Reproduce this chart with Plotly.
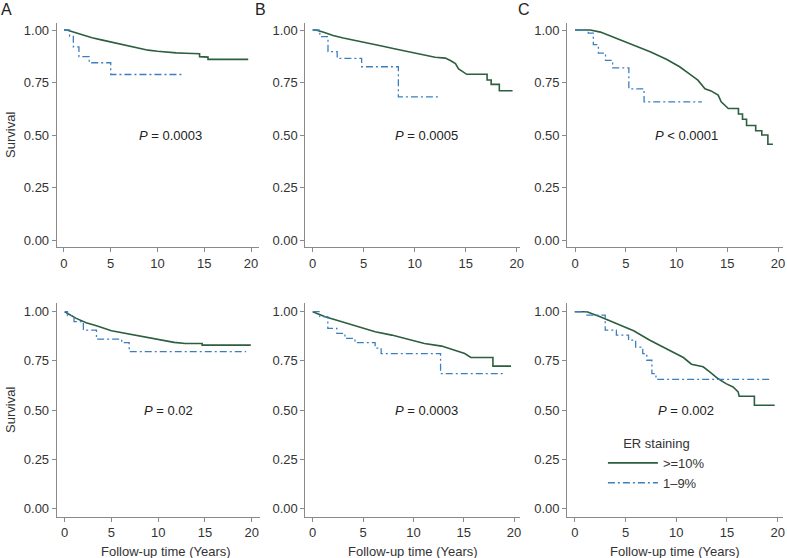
import plotly.graph_objects as go

# ---------------- data ----------------
# Top row
A1_hi_t = [0, 0.3, 1, 2, 3, 4, 5, 6, 7, 8, 9, 10, 11, 12, 13, 14.5, 14.5, 15.4, 15.4, 19.7]
A1_hi_s = [1.0, 1.0, 0.99, 0.976, 0.963, 0.953, 0.943, 0.932, 0.921, 0.912, 0.904, 0.899, 0.894, 0.891, 0.889, 0.887, 0.873, 0.871, 0.860, 0.860]
A1_lo_t = [0, 0.6, 1.0, 1.6, 2.7, 5.0, 12.6]
A1_lo_s = [1.0, 0.97, 0.92, 0.873, 0.844, 0.788, 0.788]

B1_hi_t = [0, 0.3, 1, 2, 3, 4, 5, 6, 7, 8, 9, 10, 11, 12, 13.0, 13.5, 14.0, 14.3, 14.6, 15.0, 15.1, 17.1, 17.1, 17.5, 17.5, 18.3, 18.3, 19.6]
B1_hi_s = [1.0, 1.0, 0.99, 0.974, 0.962, 0.951, 0.942, 0.932, 0.921, 0.911, 0.900, 0.890, 0.879, 0.870, 0.866, 0.855, 0.84, 0.815, 0.805, 0.795, 0.789, 0.789, 0.762, 0.762, 0.741, 0.741, 0.711, 0.711]
B1_lo_t = [0, 0.7, 1.5, 2.4, 4.8, 8.4, 12.3]
B1_lo_s = [1.0, 0.968, 0.897, 0.865, 0.825, 0.682, 0.682]

C1_hi_t = [0, 1.5, 2.5, 4.1, 5.75, 7.4, 9.0, 10.3, 11.3, 12.1, 12.8, 13.4, 14.1, 14.4, 15.1, 16.1, 16.1, 16.5, 16.5, 16.9, 16.9, 17.8, 17.8, 18.4, 18.4, 19.0, 19.0, 19.5]
C1_hi_s = [1.0, 1.0, 0.99, 0.96, 0.928, 0.896, 0.861, 0.825, 0.79, 0.761, 0.72, 0.71, 0.69, 0.658, 0.626, 0.626, 0.60, 0.60, 0.575, 0.575, 0.545, 0.545, 0.52, 0.52, 0.50, 0.50, 0.456, 0.456]
C1_lo_t = [0, 1.3, 1.8, 2.3, 3.0, 3.7, 5.3, 6.8, 12.5]
C1_lo_s = [1.0, 0.985, 0.93, 0.89, 0.855, 0.82, 0.72, 0.658, 0.658]

# Bottom row
A2_hi_t = [0, 0.5, 1.24, 2.3, 3.4, 5.0, 6.9, 8.3, 10.1, 11.7, 12.9, 14.7, 14.7, 19.9]
A2_hi_s = [1.0, 0.985, 0.966, 0.944, 0.929, 0.903, 0.886, 0.872, 0.857, 0.844, 0.838, 0.838, 0.830, 0.830]
A2_lo_t = [0, 0.3, 1.0, 2.0, 3.4, 6.1, 6.9, 19.4]
A2_lo_s = [1.0, 0.98, 0.95, 0.906, 0.86, 0.843, 0.797, 0.797]

B2_hi_t = [0, 0.5, 1.23, 2.9, 4.5, 6.2, 7.85, 9.5, 11.1, 12.8, 13.8, 15.1, 15.7, 17.9, 17.9, 19.7]
B2_hi_s = [1.0, 0.988, 0.974, 0.949, 0.923, 0.898, 0.881, 0.859, 0.838, 0.825, 0.81, 0.787, 0.767, 0.767, 0.723, 0.723]
B2_lo_t = [0, 0.7, 1.5, 2.4, 3.2, 4.2, 6.2, 6.8, 12.7, 19.05]
B2_lo_s = [1.0, 0.975, 0.915, 0.89, 0.864, 0.843, 0.815, 0.787, 0.685, 0.685]

C2_hi_t = [0, 1.2, 2.5, 4.15, 5.8, 7.4, 9.05, 10.7, 11.5, 12.65, 13.3, 14.1, 14.9, 15.6, 16.1, 16.2, 17.7, 17.7, 19.7]
C2_hi_s = [1.0, 1.0, 0.974, 0.94, 0.903, 0.855, 0.813, 0.767, 0.733, 0.72, 0.694, 0.66, 0.634, 0.617, 0.592, 0.57, 0.57, 0.524, 0.524]
C2_lo_t = [0, 1.2, 3.0, 4.1, 5.3, 6.0, 6.7, 7.1, 7.6, 8.0, 19.3]
C2_lo_s = [1.0, 0.983, 0.906, 0.881, 0.855, 0.82, 0.787, 0.753, 0.685, 0.656, 0.656]

p_labels = ["<i>P</i> = 0.0003", "<i>P</i> = 0.0005", "<i>P</i> &lt; 0.0001",
            "<i>P</i> = 0.02", "<i>P</i> = 0.0003", "<i>P</i> = 0.002"]
p_x = [11.4, 11.2, 11.0, 11.1, 11.3, 10.95]
p_y = [0.5, 0.5, 0.5, 0.5, 0.5, 0.5]
panel_letters = ["A", "B", "C"]
series_names = [">=10%", "1–9%"]
legend_title = "ER staining"
x_ticks = [0, 5, 10, 15, 20]
y_ticks = [0, 0.25, 0.5, 0.75, 1.0]
y_ticklabels = ["0.00", "0.25", "0.50", "0.75", "1.00"]

# ---------------- layout geometry (pixels) ----------------
W, H = 787, 558
FONT = "Liberation Sans, Arial, Helvetica, sans-serif"
GREEN = "#2b5f3e"
BLUE = "#3b7fc0"

# per panel: x pixel of t=0, pixels per year, axis left px, axis right px
xgeom = [
    (64.3, 9.4, 57, 260), (314.3, 10.25, 307, 523), (578, 10.2, 570, 787),
    (65, 9.4, 57, 261), (314.3, 10.12, 307, 523), (577.7, 10.2, 570, 787),
]
# per row: y px of 1.0, y px of 0.0, axis top px, axis bottom px
ygeom = [(30, 240, 23, 247.3), (311.7, 508.3, 303.3, 516.7)]

curves = [
    (A1_hi_t, A1_hi_s, A1_lo_t, A1_lo_s),
    (B1_hi_t, B1_hi_s, B1_lo_t, B1_lo_s),
    (C1_hi_t, C1_hi_s, C1_lo_t, C1_lo_s),
    (A2_hi_t, A2_hi_s, A2_lo_t, A2_lo_s),
    (B2_hi_t, B2_hi_s, B2_lo_t, B2_lo_s),
    (C2_hi_t, C2_hi_s, C2_lo_t, C2_lo_s),
]

fig = go.Figure()
layout = dict(width=W, height=H, margin=dict(l=0, r=0, t=0, b=0),
              paper_bgcolor="white", plot_bgcolor="white",
              font=dict(family=FONT, size=12, color="#222"),
              annotations=[])

for i, (ht, hs, lt, ls) in enumerate(curves):
    n = i + 1
    xa = "x" if n == 1 else f"x{n}"
    ya = "y" if n == 1 else f"y{n}"
    show = (i == 5)
    fig.add_trace(go.Scatter(x=ht, y=hs, mode="lines", xaxis=xa, yaxis=ya,
                             line=dict(color=GREEN, width=1.6),
                             name=series_names[0], showlegend=show,
                             cliponaxis=False))
    fig.add_trace(go.Scatter(x=lt, y=ls, mode="lines", xaxis=xa, yaxis=ya,
                             line=dict(color=BLUE, width=1.3, shape="hv",
                                       dash="7px,3px,2px,3px"),
                             name=series_names[1], showlegend=show,
                             cliponaxis=False))

    x0, ppy, left, right = xgeom[i]
    row = 0 if i < 3 else 1
    y1p, y0p, top, bot = ygeom[row]
    ppu = y0p - y1p
    xr = [(left - x0) / ppy, (right - x0) / ppy]
    yr = [-(bot - y0p) / ppu, 1 + (y1p - top) / ppu]
    common = dict(showline=True, linecolor="#8a8a8a", linewidth=1,
                  ticks="outside", ticklen=4, tickcolor="#8a8a8a",
                  showgrid=False, zeroline=False,
                  tickfont=dict(family=FONT, size=13, color="#333"))
    layout["xaxis" if n == 1 else f"xaxis{n}"] = dict(
        domain=[left / W, right / W], range=xr, anchor=ya,
        tickvals=x_ticks, **common)
    layout["yaxis" if n == 1 else f"yaxis{n}"] = dict(
        domain=[1 - bot / H, 1 - top / H], range=yr, anchor=xa,
        tickvals=y_ticks, ticktext=y_ticklabels, **common)
    layout["annotations"].append(dict(
        x=p_x[i], y=p_y[i], xref=xa, yref=ya, text=p_labels[i],
        xanchor="center", yanchor="middle",
        showarrow=False, font=dict(family=FONT, size=13, color="#222")))

# panel letters
for k, (lx, letter) in enumerate(zip([7, 262, 527], panel_letters)):
    layout["annotations"].append(dict(
        x=lx / W, y=1 - 10 / H, xref="paper", yref="paper", text=letter,
        xanchor="center", yanchor="middle",
        showarrow=False, font=dict(family=FONT, size=16, color="#222")))

# y-axis titles (left column)
for cy in [135, 410]:
    layout["annotations"].append(dict(
        x=10 / W, y=1 - cy / H, xref="paper", yref="paper", text="Survival",
        xanchor="center", yanchor="middle",
        textangle=-90, showarrow=False,
        font=dict(family=FONT, size=13, color="#333")))

# x-axis titles (bottom row)
for cx in [167, 415, 678]:
    layout["annotations"].append(dict(
        x=cx / W, y=1 - 551 / H, xref="paper", yref="paper",
        xanchor="center", yanchor="middle",
        text="Follow-up time (Years)", showarrow=False,
        font=dict(family=FONT, size=13, color="#333")))

layout["legend"] = dict(
    x=606 / W, y=1 - 431 / H, xanchor="left", yanchor="top",
    bgcolor="rgba(0,0,0,0)", itemwidth=50, tracegroupgap=0,
    font=dict(family=FONT, size=13, color="#333"),
    title=dict(text=legend_title, side="top center",
               font=dict(family=FONT, size=13, color="#333")))

fig.update_layout(**layout)
fig.write_html("out.html", config={"displayModeBar": False},
               post_script="document.body.style.margin='0';document.body.style.overflow='hidden';")
